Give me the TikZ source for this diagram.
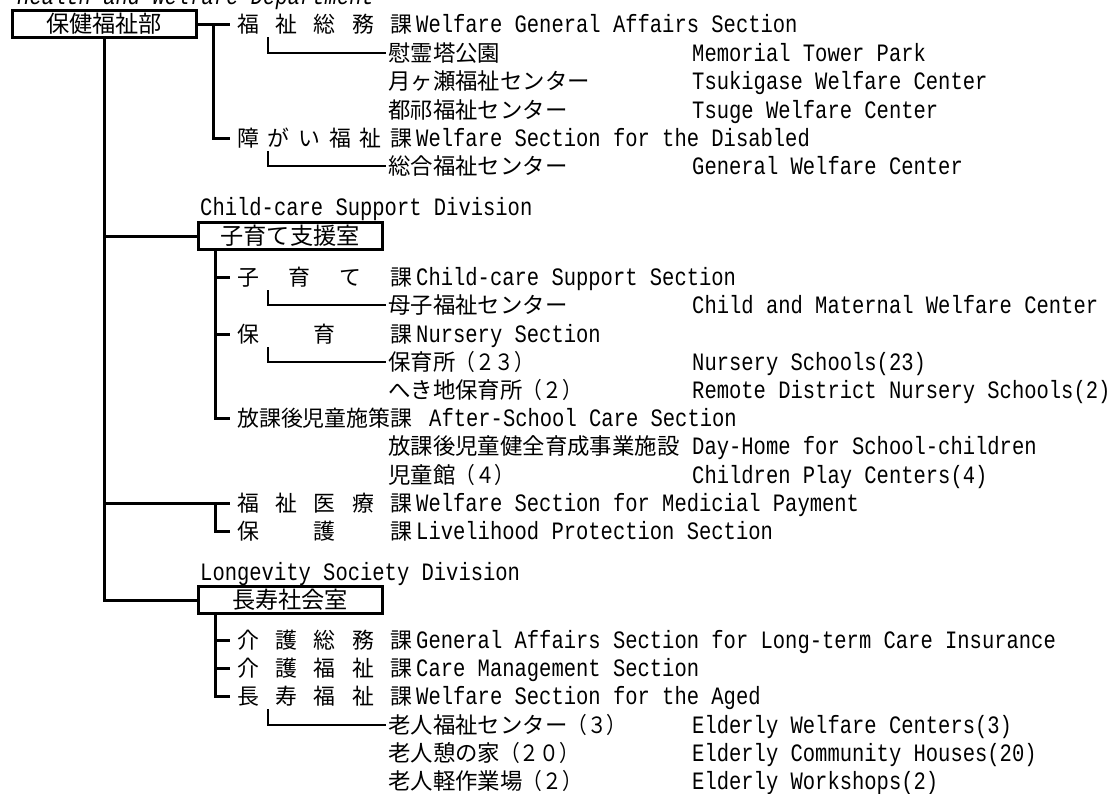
\documentclass[tikz,border=0pt]{standalone}
\usepackage{fontspec}
\usepackage{graphicx}
\newfontfamily\jpf{Noto Sans CJK JP}
\newfontfamily\enf[FakeStretch=0.82]{Liberation Mono}
\newcommand\jpsec{\jpf\fontsize{21.9pt}{26pt}\selectfont}
\newcommand\jpitem{\jpf\fontsize{22.4pt}{26pt}\selectfont}
\newcommand\jpbox{\jpf\fontsize{23.2pt}{27pt}\selectfont}
\newcommand\ensz{\enf\fontsize{25pt}{29pt}\selectfont}
\newcommand\jsec[1]{\makebox[175pt][l]{#1}}
\newcommand\nar[1]{\scalebox{0.88}[1]{#1}}
\begin{document}
\begin{tikzpicture}[x=1pt,y=-1pt,
  thk/.style={line width=3pt},
  thn/.style={line width=1.1pt},
  sec/.style={anchor=base west,inner sep=0pt,font=\jpsec},
  itm/.style={anchor=base west,inner sep=0pt,font=\jpitem},
  en/.style={anchor=base west,inner sep=0pt,font=\ensz},
  unit/.style={draw,line width=3pt,minimum width=184pt,minimum height=26.5pt,inner sep=0pt,font=\jpbox}]
\useasboundingbox (0,0) rectangle (1110,793);
% title (cut at top)
\node[en,font=\ensz\itshape] (title) at (17,4.5) {Health and Welfare Department};
% main unit
\node[unit] (hb) at (104,24) {保健福祉部};
% group A
\node[sec] (sA0) at (237,32) {\jsec{福\hfill 祉\hfill 総\hfill 務\hfill 課}};
\node[en] (eA0) at (416,32) {Welfare General Affairs Section};
\node[itm] (iA1) at (388,61) {慰霊塔公園};
\node[en] (fA1) at (692,61) {Memorial Tower Park};
\node[itm] (iA2) at (388,89) {月ヶ瀬福祉センター};
\node[en] (fA2) at (692,89) {Tsukigase Welfare Center};
\node[itm] (iA3) at (388,118) {都祁福祉センター};
\node[en] (fA3) at (692,118) {Tsuge Welfare Center};
\node[sec] (sA4) at (237,146) {\jsec{障\hfill が\hfill い\hfill 福\hfill 祉\hfill 課}};
\node[en] (eA4) at (416,146) {Welfare Section for the Disabled};
\node[itm] (iA5) at (388,174) {総合福祉センター};
\node[en] (fA5) at (692,174) {General Welfare Center};
% child-care division
\node[en] (dB) at (200,215) {Child-care Support Division};
\node[unit] (cc) at (290,236) {子育て支援室};
\node[sec] (sB0) at (237,285) {\jsec{子\hfill 育\hfill て\hfill 課}};
\node[en] (eB0) at (416,285) {Child-care Support Section};
\node[itm] (iB1) at (388,313) {母子福祉センター};
\node[en] (fB1) at (692,313) {Child and Maternal Welfare Center};
\node[sec] (sB2) at (237,342) {\jsec{保\hfill 育\hfill 課}};
\node[en] (eB2) at (416,342) {Nursery Section};
\node[itm] (iB3) at (388,370) {保育所\nar{（２３）}};
\node[en] (fB3) at (692,370) {Nursery Schools(23)};
\node[itm] (iB4) at (388,398) {へき地保育所\nar{（２）}};
\node[en] (fB4) at (692,398) {Remote District Nursery Schools(2)};
\node[sec] (sB5) at (237,426) {\jsec{放課後児童施策課}};
\node[en] (eB5) at (429,426) {After-School Care Section};
\node[itm] (iB6) at (388,454) {放課後児童健全育成事業施設};
\node[en] (fB6) at (692,454) {Day-Home for School-children};
\node[itm] (iB7) at (388,483) {児童館\nar{（４）}};
\node[en] (fB7) at (692,483) {Children Play Centers(4)};
\node[sec] (sB8) at (237,511) {\jsec{福\hfill 祉\hfill 医\hfill 療\hfill 課}};
\node[en] (eB8) at (416,511) {Welfare Section for Medicial Payment};
\node[sec] (sB9) at (237,539) {\jsec{保\hfill 護\hfill 課}};
\node[en] (eB9) at (416,539) {Livelihood Protection Section};
% longevity division
\node[en] (dC) at (200,580) {Longevity Society Division};
\node[unit] (lg) at (290,600) {長寿社会室};
\node[sec] (sC0) at (237,648) {\jsec{介\hfill 護\hfill 総\hfill 務\hfill 課}};
\node[en] (eC0) at (416,648) {General Affairs Section for Long-term Care Insurance};
\node[sec] (sC1) at (237,676) {\jsec{介\hfill 護\hfill 福\hfill 祉\hfill 課}};
\node[en] (eC1) at (416,676) {Care Management Section};
\node[sec] (sC2) at (237,704) {\jsec{長\hfill 寿\hfill 福\hfill 祉\hfill 課}};
\node[en] (eC2) at (416,704) {Welfare Section for the Aged};
\node[itm] (iC3) at (388,733) {老人福祉センター\nar{（３）}};
\node[en] (fC3) at (692,733) {Elderly Welfare Centers(3)};
\node[itm] (iC4) at (388,761) {老人憩の家\nar{（２０）}};
\node[en] (fC4) at (692,761) {Elderly Community Houses(20)};
\node[itm] (iC5) at (388,789) {老人軽作業場\nar{（２）}};
\node[en] (fC5) at (692,789) {Elderly Workshops(2)};
% connector end points
\coordinate (jA0) at (230,24);
\coordinate (jA4) at (230,138);
\coordinate (kA) at (213,24);
\coordinate (jB0) at (230,277);
\coordinate (jB2) at (230,334);
\coordinate (jB5) at (230,418);
\coordinate (jB8) at (230,503);
\coordinate (jB9) at (230,531);
\coordinate (kB) at (215,249.25);
\coordinate (kB8) at (215,503);
\coordinate (jC0) at (230,640);
\coordinate (jC1) at (230,668);
\coordinate (jC2) at (230,696);
\coordinate (kC) at (215,613.25);
\coordinate (tA0) at (268,37);
\coordinate (uA1) at (386,53);
\coordinate (tA4) at (268,151);
\coordinate (uA5) at (386,166);
\coordinate (tB0) at (268,290);
\coordinate (uB1) at (386,305);
\coordinate (tB2) at (268,347);
\coordinate (uB3) at (386,362);
\coordinate (tC2) at (268,709);
\coordinate (uC3) at (386,725);
% thick connectors
\draw[thk] (hb.east) -- (jA0);
\draw[thk] (kA) |- (jA4);
\draw[thk] (hb.south) |- (cc.west);
\draw[thk] (hb.south) |- (jB8);
\draw[thk] (hb.south) |- (lg.west);
\draw[thk] (kB) |- (jB0);
\draw[thk] (kB) |- (jB2);
\draw[thk] (kB) |- (jB5);
\draw[thk] (kB8) |- (jB9);
\draw[thk] (kC) |- (jC0);
\draw[thk] (kC) |- (jC1);
\draw[thk] (kC) |- (jC2);
% thin sub-brackets
\draw[thn] (tA0) |- (uA1);
\draw[thn] (tA4) |- (uA5);
\draw[thn] (tB0) |- (uB1);
\draw[thn] (tB2) |- (uB3);
\draw[thn] (tC2) |- (uC3);
\end{tikzpicture}
\end{document}
